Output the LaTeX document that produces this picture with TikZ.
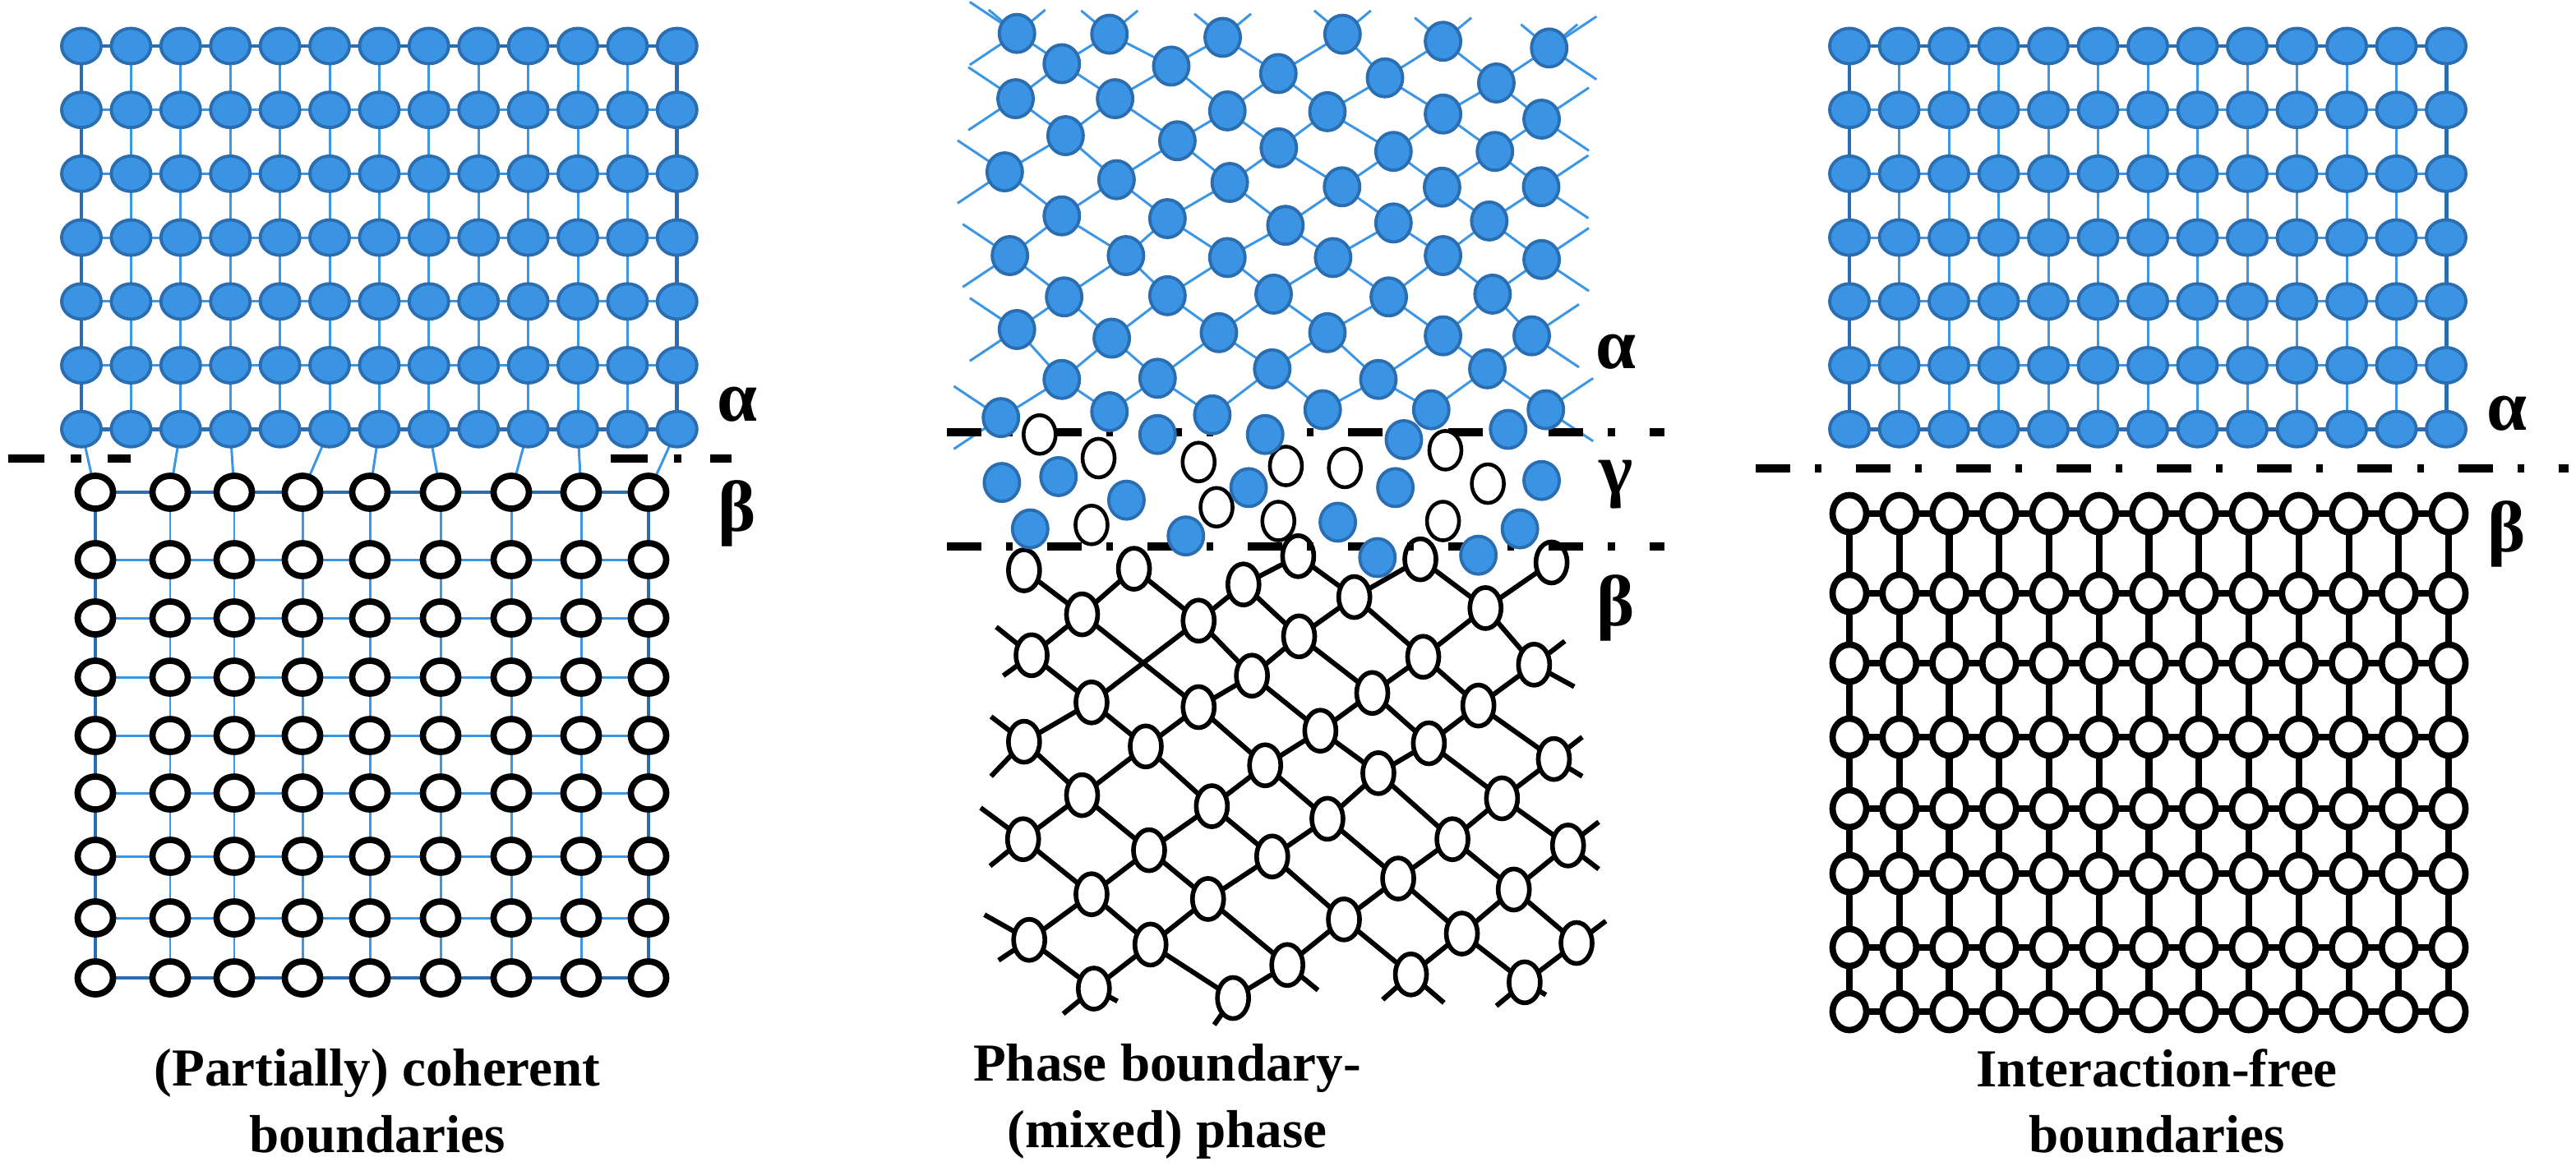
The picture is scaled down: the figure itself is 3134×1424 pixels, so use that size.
\documentclass[tikz,border=0pt]{standalone}
\usepackage{fontspec}
\setmainfont{Liberation Serif}
\usetikzlibrary{shapes.geometric}
\definecolor{blueF}{HTML}{3A93E3}
\definecolor{blueD}{HTML}{2A6DB0}
\definecolor{blueL}{HTML}{3C96E6}
\pgfdeclarelayer{bg}\pgfsetlayers{bg,main}
\tikzset{
 ba/.style={ellipse,inner sep=0pt,fill=blueF,draw=blueD,line width=1.1pt,minimum width=0.48cm,minimum height=0.43cm},
 bam/.style={ellipse,inner sep=0pt,fill=blueF,draw=blueD,line width=1.1pt,minimum width=0.43cm,minimum height=0.46cm},
 bo/.style={ellipse,inner sep=0pt,fill=white,draw=black,line width=2.2pt,minimum width=0.43cm,minimum height=0.40cm},
 bor/.style={ellipse,inner sep=0pt,fill=white,draw=black,line width=2.2pt,minimum width=0.41cm,minimum height=0.45cm},
 bog/.style={ellipse,inner sep=0pt,fill=white,draw=black,line width=1.3pt,minimum width=0.39cm,minimum height=0.47cm},
 bob/.style={ellipse,inner sep=0pt,fill=white,draw=black,line width=1.6pt,minimum width=0.38cm,minimum height=0.50cm},
 bl/.style={blueL,line width=0.85pt},
 bd/.style={blueD,line width=1.4pt},
 bk/.style={black,line width=1.7pt},
 bkr/.style={black,line width=2.3pt},
 dd/.style={black,line width=2.9pt,dash pattern=on 0.42cm off 0.3cm on 0.08cm off 0.42cm},
 lab/.style={font=\bfseries\fontsize{25}{30}\selectfont,inner sep=0pt},
 captxt/.style={font=\bfseries\fontsize{18.5}{23}\selectfont,align=center,inner sep=0pt}
}
\begin{document}
\begin{tikzpicture}[x=0.01cm,y=-0.01cm]
\useasboundingbox (0,0) rectangle (3134,1424);
%% ---------------- LEFT PANEL ----------------
\foreach \i in {0,...,12}{\foreach \j in {0,...,6}{\node[ba] (L\i-\j) at ({99+60.4*\i},{56+77.7*\j}) {};}}
\foreach \x [count=\i from 0] in {116,207,285,368,450,536,622,707,789}{
 \foreach \y [count=\j from 0] in {599,681,752,824,895,965,1042,1117,1190}{\node[bo] (K\i-\j) at (\x,\y) {};}}
\begin{pgfonlayer}{bg}
\foreach \j in {0,...,6}{\foreach \i [evaluate=\i as \n using int(\i+1)] in {0,...,11}{\draw[bl] (L\i-\j.center)--(L\n-\j.center);}}
\foreach \i in {0,...,12}{\foreach \j [evaluate=\j as \n using int(\j+1)] in {0,...,5}{\draw[bl] (L\i-\j.center)--(L\i-\n.center);}}
\draw[bd] (L0-0.center)--(L12-0.center)--(L12-6.center)--(L0-6.center)--cycle;
\foreach \j in {0,...,8}{\foreach \i [evaluate=\i as \n using int(\i+1)] in {0,...,7}{\draw[bl] (K\i-\j.center)--(K\n-\j.center);}}
\foreach \i in {0,...,8}{\foreach \j [evaluate=\j as \n using int(\j+1)] in {0,...,7}{\draw[bl] (K\i-\j.center)--(K\i-\n.center);}}
\draw[bd] (K0-0.center)--(K8-0.center)--(K8-8.center)--(K0-8.center)--cycle;
\foreach \a/\b in {0/0,2/1,3/2,5/3,6/4,7/5,9/6,10/7,12/8}{\draw[bl] (L\a-6.center)--(K\b-0.center);}
\end{pgfonlayer}
\coordinate (dl1) at (10,558); \coordinate (dl2) at (54,558);
\coordinate (dl3) at (86,558); \coordinate (dl4) at (99,558);
\coordinate (dl5) at (131,558); \coordinate (dl6) at (159,558);
\coordinate (dr1) at (743,558); \coordinate (dr2) at (788,558);
\coordinate (dr3) at (820,558); \coordinate (dr4) at (829,558);
\coordinate (dr5) at (864,558); \coordinate (dr6) at (890,558);
\foreach \a/\b in {dl1/dl2,dl3/dl4,dl5/dl6,dr1/dr2,dr3/dr4,dr5/dr6}{\draw[line width=2.9pt] (\a)--(\b);}
\node[lab] (la) at (897,492) {α};
\node[lab] (lb) at (897,625) {β};
\node[captxt] (lc) at (459,1340) {(Partially) coherent\\boundaries};
%% ---------------- RIGHT PANEL ----------------
\foreach \i in {0,...,12}{\foreach \j in {0,...,6}{\node[ba] (R\i-\j) at ({2250+60.5*\i},{56+77.7*\j}) {};}}
\foreach \i in {0,...,12}{
 \foreach \y [count=\j from 0] in {625,722,807,897,984,1063,1153,1231}{\node[bor] (S\i-\j) at ({2250+60.75*\i},\y) {};}}
\begin{pgfonlayer}{bg}
\foreach \j in {0,...,6}{\foreach \i [evaluate=\i as \n using int(\i+1)] in {0,...,11}{\draw[bl] (R\i-\j.center)--(R\n-\j.center);}}
\foreach \i in {0,...,12}{\foreach \j [evaluate=\j as \n using int(\j+1)] in {0,...,5}{\draw[bl] (R\i-\j.center)--(R\i-\n.center);}}
\draw[bd] (R0-0.center)--(R12-0.center)--(R12-6.center)--(R0-6.center)--cycle;
\foreach \j in {0,...,7}{\foreach \i [evaluate=\i as \n using int(\i+1)] in {0,...,11}{\draw[bkr] (S\i-\j.center)--(S\n-\j.center);}}
\foreach \i in {0,...,12}{\foreach \j [evaluate=\j as \n using int(\j+1)] in {0,...,6}{\draw[bkr] (S\i-\j.center)--(S\i-\n.center);}}
\end{pgfonlayer}
\coordinate (rd1) at (2136,570); \coordinate (rd2) at (3125,570);
\draw[dd] (rd1)--(rd2);
\node[lab] (ra) at (3050,503) {α};
\node[lab] (rb) at (3050,650) {β};
\node[captxt] (rc) at (2624,1340) {Interaction-free\\boundaries};
%% ---------------- MIDDLE PANEL ----------------
\coordinate (md1) at (1152,526); \coordinate (md2) at (2025,526);
\coordinate (md3) at (1152,665); \coordinate (md4) at (2025,665);
% beta lattice
\begin{scope}[shift={(1150,650)},xscale=0.574,yscale=0.3827]
\foreach \n/\p in {a1/{167,115},a2/{400,110},a3/{632,160},a4/{748,70},a5/{867,200},a6/{1007,80},a7/{1145,235},a8/{1285,90},
 b1/{290,255},b2/{537,275},b3/{750,325},b4/{1013,390},b5/{1248,415},b6/{183,385},
 c1/{650,450},c2/{905,505},c3/{310,535},c4/{537,550},c5/{1130,545},
 d1/{167,660},d2/{425,675},d3/{795,625},d4/{1025,665},d5/{1290,715},
 e1/{678,735},e2/{918,760},e3/{290,830},e4/{565,865},e5/{810,905},e6/{1180,840},
 f1/{165,970},f2/{432,1005},f3/{693,1025},f4/{1075,970},f5/{1320,990},
 g1/{960,1095},g2/{310,1145},g3/{557,1160},g4/{1205,1130},
 h1/{845,1225},h2/{178,1290},h3/{435,1305},h4/{1095,1270},h5/{1338,1300},
 i1/{725,1370},i2/{315,1445},i3/{987,1400},i4/{1228,1425},j1/{610,1475}}
 {\node[bob] (\n) at (\p) {};}
\begin{pgfonlayer}{bg}
\foreach \a/\b in {a1/b1,b1/a2,a2/b2,b2/a3,a3/a4,a4/a5,a5/a6,a6/a7,a7/a8,b1/b6,b1/c4,b2/c3,b2/c1,a3/b3,b3/a5,b3/c2,b3/c1,
 a5/b4,b4/a7,b4/c2,b4/c5,a7/b5,b5/c5,b6/c3,c3/d1,c3/d2,c4/d2,c4/e1,c1/c4,c1/d3,d3/c2,d3/e1,d3/e2,c2/d4,d4/c5,d4/e6,d4/e2,
 c5/d5,d1/e3,d2/e3,d2/e4,e1/e4,e1/e5,e2/e5,e2/f4,e6/d5,e6/f5,e6/f4,e3/f1,e3/f2,e4/f2,e4/f3,e5/f3,e5/g1,f1/g2,f2/g2,f2/g3,
 f3/g3,f3/h1,g1/f4,g1/h1,f4/g4,g4/f5,g4/h4,g4/h5,g1/h4,g2/h2,g2/h3,g3/h3,g3/i1,h1/i1,h1/i3,h2/i2,h3/i2,h3/j1,i1/j1,i3/h4,h4/i4,i4/h5}
 {\draw[bk] (\a.center)--(\b.center);}
\foreach \a/\d in {b6/{-75,-90},b6/{-60,65},b5/{65,-75},b5/{85,70},d1/{-70,-80},d1/{-70,110},d5/{60,-70},d5/{60,55},
 f1/{-90,-100},f1/{-70,85},f5/{65,-75},f5/{65,75},h2/{-95,-80},h2/{-65,65},h5/{62,-70},i2/{-65,80},i2/{50,40},
 j1/{-40,85},i1/{65,80},i3/{-60,80},i3/{70,90},i4/{-60,75},i4/{45,40}}
 {\draw[bk] (\a.center)--++(\d);}
\end{pgfonlayer}
\end{scope}
\draw[dd] (md1)--(md2);
\draw[dd] (md3)--(md4);
% alpha lattice and gamma
\begin{scope}[shift={(1150,0)},xscale=0.574,yscale=0.4785]
\foreach \r/\pts in {A/{{152,85},{348,87},{588,95},{842,87},{1055,105},{1280,122}},
 C/{{149,251},{360,251},{598,282},{810,284},{1055,290},{1264,303}},
 E/{{126,437},{363,457},{603,464},{841,475},{1053,476},{1263,475}},
 G/{{137,650},{383,650},{598,655},{822,655},{1055,650},{1264,660}},
 I/{{152,838},{353,860},{580,846},{810,846},{1055,854},{1243,854}},
 K/{{118,1062},{348,1047},{566,1055},{800,1042},{1030,1042},{1273,1042}},
 B/{{247,162},{479,168},{706,187},{932,198},{1168,211}},
 D/{{255,345},{492,358},{707,376},{950,385},{1165,385}},
 F/{{247,549},{471,556},{721,573},{950,567},{1153,562}},
 H/{{252,755},{471,752},{696,748},{940,755},{1160,748}},
 J/{{247,965},{450,962},{693,938},{918,965},{1149,938}}}
 {\foreach \p [count=\k] in \pts {\node[bam] (M\r\k) at (\p) {};}}
\foreach \p [count=\k] in {{200,1105},{325,1165},{537,1175},{722,1185},{847,1190},{1060,1145},{1150,1230},{575,1290},{310,1335},{706,1325},{1055,1325}}
 {\node[bog] (G\k) at (\p) {};}
\foreach \p [count=\k] in {{450,1105},{678,1105},{972,1118},{1193,1092},{120,1227},{240,1212},{384,1272},{643,1240},{954,1240},{1264,1222},{180,1345},{510,1363},{832,1328},{1218,1345},{916,1418},{1130,1412}}
 {\node[bam] (H\k) at (\p) {};}
\begin{pgfonlayer}{bg}
\foreach \s/\f in {A/B,C/B,C/D,E/D,E/F,G/F,G/H,I/H,I/J,K/J}{
 \foreach \i [evaluate=\i as \n using int(\i+1)] in {1,...,5}{\draw[bl] (M\s\i.center)--(M\f\i.center); \draw[bl] (M\s\n.center)--(M\f\i.center);}}
\foreach \r in {A,C,E,G,I,K}{\draw[bl] (M\r1.center)--++(-100,-80); \draw[bl] (M\r1.center)--++(-100,80);
 \draw[bl] (M\r6.center)--++(100,-80); \draw[bl] (M\r6.center)--++(100,80);}
\foreach \k in {1,...,6}{\draw[bl] (MA\k.center)--++(-60,-60); \draw[bl] (MA\k.center)--++(60,-60);}
\end{pgfonlayer}
\end{scope}
\node[lab] (ma) at (1966,428) {α};
\node[lab] (mg) at (1966,590) {γ};
\node[lab] (mb) at (1966,740) {β};
\node[captxt] (mc) at (1420,1340) {Phase boundary-\\(mixed) phase};
\end{tikzpicture}
\end{document}
